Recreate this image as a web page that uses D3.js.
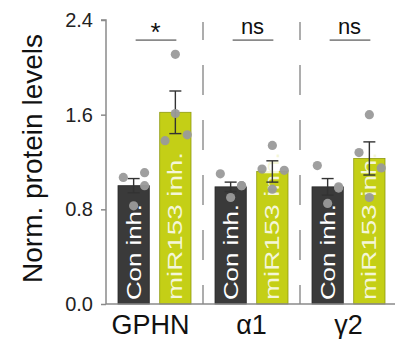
<!DOCTYPE html>
<html><head><meta charset="utf-8">
<script src="https://cdn.jsdelivr.net/npm/d3@7"></script>
<style>body{margin:0;background:#fff}svg{display:block}text{font-family:"Liberation Sans",Arial,sans-serif}</style>
</head><body><svg id="c" width="398" height="339"></svg>
<script>
const groups = ["GPHN", "α1", "γ2"];
const series = ["Con inh.", "miR153 inh."];
const means = [[1.00, 1.62], [0.99, 1.12], [0.99, 1.23]];
const errs = [[0.06, 0.18], [0.04, 0.09], [0.07, 0.14]];
const points = [
  [[1.07, 1.11, 1.00, 0.83], [2.11, 1.38, 1.43, 1.61]],
  [[1.10, 1.00, 1.00, 0.90], [1.34, 1.14, 1.13, 0.97]],
  [[1.17, 0.99, 0.98, 0.85], [1.60, 1.28, 1.15, 0.90]]
];
const pointDx = [[-0.33, 0.35, 0.35, 0.0], [0.0, -0.33, 0.38, 0.0]];
const sigLabels = ["*", "ns", "ns"];
const sigLevel = 2.23;
const yTicks = [0, 0.8, 1.6, 2.4];
const colors = ["#3a3a3a", "#c4cf16"];
const textColors = ["#ffffff", "#f4f6d8"];

const svg = d3.select("#c");
const y = d3.scaleLinear().domain([0, 2.4]).range([304, 20]);
const x0 = d3.scaleBand().domain(groups).range([106, 397]);
const x1 = d3.scaleBand().domain(series).range([12, 85]).paddingInner(0.25);
const axisCol = "#8a8a8a";

// dashed dividers
groups.slice(1).forEach(g => {
  svg.append("line").attr("x1", x0(g)).attr("x2", x0(g))
    .attr("y1", 22).attr("y2", y(0))
    .attr("stroke", "#999").attr("stroke-width", 1.6)
    .attr("stroke-dasharray", "30,25").attr("stroke-dashoffset", 12);
});

// y axis
const yAxis = svg.append("g").attr("transform", `translate(${x0.range()[0]},0)`)
  .call(d3.axisLeft(y).tickValues(yTicks).tickFormat(d3.format(".1f")).tickSize(5).tickPadding(8));
yAxis.select(".domain").attr("stroke", axisCol).attr("stroke-width", 1.5).attr("d", `M-5,${y(2.4)}H0V${y(0)}`);
yAxis.selectAll(".tick line").attr("stroke", axisCol).attr("stroke-width", 1.5);
yAxis.selectAll(".tick text").attr("font-size", 20).attr("fill", "#222").attr("font-family", "Liberation Sans, Arial");

// bars
groups.forEach((g, gi) => {
  const gg = svg.append("g").attr("transform", `translate(${x0(g)},0)`);
  series.forEach((s, si) => {
    const bx = x1(s), bw = x1.bandwidth(), cx = bx + bw / 2;
    gg.append("rect").attr("x", bx).attr("y", y(means[gi][si]))
      .attr("width", bw).attr("height", y(0) - y(means[gi][si]))
      .attr("fill", colors[si]).attr("stroke", si ? "#8f9a10" : "#2a2a2a").attr("stroke-width", 0.8);
    // label
    gg.append("text").attr("transform", `translate(${cx + 7},${y(0) - 4}) rotate(-90)`)
      .attr("font-size", 20).attr("fill", textColors[si])
      .attr("textLength", si ? 148 : 96).attr("lengthAdjust", "spacingAndGlyphs")
      .text(s);
    // error bar
    const m = means[gi][si], e = errs[gi][si];
    gg.append("line").attr("x1", cx).attr("x2", cx).attr("y1", y(m - e)).attr("y2", y(m + e))
      .attr("stroke", "#333").attr("stroke-width", 1.4);
    [m + e, m - e].forEach(v => gg.append("line").attr("x1", cx - 6).attr("x2", cx + 6)
      .attr("y1", y(v)).attr("y2", y(v)).attr("stroke", "#333").attr("stroke-width", 1.4));
    // points
    points[gi][si].forEach((v, pi) => {
      gg.append("circle").attr("cx", cx + pointDx[si][pi] * bw).attr("cy", y(v)).attr("r", 4.6)
        .attr("fill", "#9a9a9a").attr("opacity", 0.95);
    });
  });
  // significance
  const c1 = x1(series[0]) + x1.bandwidth() / 2, c2 = x1(series[1]) + x1.bandwidth() / 2;
  gg.append("line").attr("x1", c1 + 2).attr("x2", c2 + 1).attr("y1", y(sigLevel)).attr("y2", y(sigLevel))
    .attr("stroke", "#8a8a8a").attr("stroke-width", 1.6);
  const star = sigLabels[gi] === "*";
  gg.append("text").attr("x", (c1 + c2) / 2 + 1).attr("y", star ? y(sigLevel) + 1 : y(sigLevel) - 6)
    .attr("text-anchor", "middle").attr("font-size", star ? 26 : 22).attr("fill", "#111")
    .text(sigLabels[gi]);
  // x label
  svg.append("text").attr("x", x0(g) + x0.bandwidth() / 2 - (gi === 0 ? 4 : 0)).attr("y", 334)
    .attr("text-anchor", "middle").attr("font-size", 27).attr("fill", "#111").text(g);
});

// x axis baseline
svg.append("line").attr("x1", x0.range()[0]).attr("x2", 395).attr("y1", y(0)).attr("y2", y(0))
  .attr("stroke", axisCol).attr("stroke-width", 1.5);

// y label
svg.append("text").attr("transform", `translate(42,${(32 + 285) / 2}) rotate(-90)`)
  .attr("text-anchor", "middle").attr("font-size", 28).attr("fill", "#111")
  .text("Norm. protein levels");
</script></body></html>
